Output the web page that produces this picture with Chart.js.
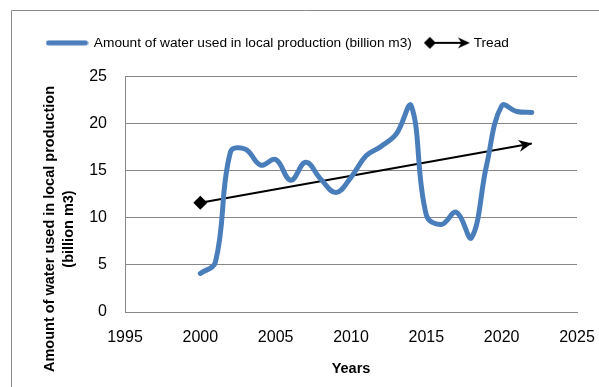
<!DOCTYPE html>
<html>
<head>
<meta charset="utf-8">
<title>Water used in local production</title>
<script src="https://cdn.jsdelivr.net/npm/chart.js@4.4.1/dist/chart.umd.min.js"></script>
<style>
  html, body { margin: 0; padding: 0; background: #fff; }
  #wrap { width: 599px; height: 387px; }
</style>
</head>
<body>
<div id="wrap"><canvas id="waterChart" width="599" height="387"></canvas></div>
<script>
// ---- data ----
const years = [2000, 2001, 2002, 2003, 2004, 2005, 2006, 2007, 2008, 2009, 2010, 2011,
               2012, 2013, 2014, 2015, 2016, 2017, 2018, 2019, 2020, 2021, 2022];
const waterUse = [4.1, 5.3, 17.0, 17.3, 15.6, 16.2, 14.0, 15.9, 14.1, 12.7, 14.3, 16.6,
                  17.6, 18.9, 21.9, 10.3, 9.3, 10.6, 7.9, 15.6, 21.9, 21.3, 21.2];
const trendYears = [2000, 2022];
const trendValues = [11.6, 17.9];
const xTickLabels = [1995, 2000, 2005, 2010, 2015, 2020, 2025];
const yTickLabels = [0, 5, 10, 15, 20, 25];

const seriesLabel = "Amount of water used in local production (billion m3)";
const trendLabel = "Tread";
const yTitleLines = ["Amount of water used in local production", "(billion m3)"];
const xTitle = "Years";

// ---- styles ----
const BLUE = "#4a7ebb";
const GRID = "#878787";
const FONT = "'Liberation Sans', Arial, sans-serif";

function drawArrowHead(ctx, tipX, tipY, angle, len, half) {
  ctx.save();
  ctx.translate(tipX, tipY);
  ctx.rotate(angle);
  ctx.beginPath();
  ctx.moveTo(0, 0);
  ctx.lineTo(-len, -half);
  ctx.lineTo(-len * 0.7, 0);
  ctx.lineTo(-len, half);
  ctx.closePath();
  ctx.fill();
  ctx.restore();
}

// legend sample glyphs
function makeLineSample() {
  const c = document.createElement("canvas");
  c.width = 43; c.height = 6;
  const g = c.getContext("2d");
  g.strokeStyle = BLUE;
  g.lineWidth = 5;
  g.lineCap = "round";
  g.beginPath();
  g.moveTo(3, 3); g.lineTo(40, 3);
  g.stroke();
  return c;
}

function makeTrendSample() {
  const c = document.createElement("canvas");
  c.width = 46; c.height = 14;
  const g = c.getContext("2d");
  g.fillStyle = "#000";
  g.strokeStyle = "#000";
  g.lineWidth = 2;
  g.beginPath();
  g.moveTo(6, 7); g.lineTo(40, 7);
  g.stroke();
  g.beginPath();
  g.moveTo(6, 1); g.lineTo(12, 7); g.lineTo(6, 13); g.lineTo(0, 7);
  g.closePath();
  g.fill();
  drawArrowHead(g, 46, 7, 0, 12, 5.5);
  return c;
}

const lineSample = makeLineSample();
const trendSample = makeTrendSample();

// frame, arrow head at trend end, rotated y title
const decorations = {
  id: "decorations",
  beforeDraw(chart) {
    const ctx = chart.ctx;
    ctx.save();
    ctx.strokeStyle = "#8a8a8a";
    ctx.lineWidth = 1;
    ctx.beginPath();
    ctx.moveTo(11.5, chart.height);
    ctx.lineTo(11.5, 10.5);
    ctx.lineTo(chart.width, 10.5);
    ctx.stroke();
    ctx.restore();
  },
  afterDatasetsDraw(chart) {
    const pts = chart.getDatasetMeta(1).data;
    const a = pts[pts.length - 2];
    const b = pts[pts.length - 1];
    const ctx = chart.ctx;
    ctx.save();
    ctx.fillStyle = "#000";
    drawArrowHead(ctx, b.x, b.y, Math.atan2(b.y - a.y, b.x - a.x), 13, 6);
    ctx.restore();
  },
  afterDraw(chart) {
    const ctx = chart.ctx;
    ctx.save();
    ctx.translate(59, 229);
    ctx.rotate(-Math.PI / 2);
    ctx.fillStyle = "#000";
    ctx.font = "bold 14.5px " + FONT;
    ctx.textAlign = "center";
    ctx.textBaseline = "middle";
    ctx.fillText(yTitleLines[0], 0, -9.5);
    ctx.fillText(yTitleLines[1], 0, 9.5);
    ctx.restore();
  }
};

const ctx = document.getElementById("waterChart").getContext("2d");
new Chart(ctx, {
  type: "line",
  data: {
    datasets: [
      {
        label: seriesLabel,
        data: years.map((y, i) => ({ x: y, y: waterUse[i] })),
        xAxisID: "x",
        yAxisID: "y",
        borderColor: BLUE,
        borderWidth: 5,
        borderCapStyle: "round",
        borderJoinStyle: "round",
        tension: 0.4,
        pointRadius: 0,
        fill: false
      },
      {
        label: trendLabel,
        data: trendYears.map((y, i) => ({ x: y, y: trendValues[i] })),
        xAxisID: "x",
        yAxisID: "y",
        borderColor: "#000",
        borderWidth: 2,
        pointStyle: "rectRot",
        pointRadius: [7, 0],
        pointBackgroundColor: "#000",
        pointBorderWidth: 0,
        tension: 0,
        fill: false
      }
    ]
  },
  options: {
    responsive: false,
    animation: false,
    devicePixelRatio: 1,
    layout: { padding: { top: 21, left: 32, right: 22, bottom: 0 } },
    plugins: {
      tooltip: { enabled: false },
      legend: {
        position: "top",
        align: "start",
        labels: {
          usePointStyle: true,
          pointStyleWidth: 40,
          padding: 15,
          color: "#000",
          font: { family: FONT, size: 13.7 },
          generateLabels: () => [
            { text: seriesLabel, pointStyle: lineSample, fillStyle: BLUE, strokeStyle: BLUE, lineWidth: 0, hidden: false, datasetIndex: 0 },
            { text: trendLabel, pointStyle: trendSample, fillStyle: "#000", strokeStyle: "#000", lineWidth: 0, hidden: false, datasetIndex: 1 }
          ]
        }
      }
    },
    scales: {
      x: {
        type: "linear",
        position: "bottom",
        min: xTickLabels[0],
        max: xTickLabels[xTickLabels.length - 1],
        afterBuildTicks: s => { s.ticks = xTickLabels.map(v => ({ value: v })); },
        afterFit: s => { s.height = 75; },
        grid: { display: false, drawTicks: true, tickLength: 16 },
        border: { display: true, color: GRID, width: 1 },
        ticks: {
          padding: 0,
          color: "#000",
          font: { family: FONT, size: 16 },
          maxRotation: 0,
          callback: v => String(v)
        },
        title: {
          display: true,
          text: xTitle,
          color: "#000",
          font: { family: FONT, size: 14.5, weight: "bold" },
          padding: { top: 0, bottom: 9 }
        }
      },
      xTop: {
        type: "linear",
        position: "top",
        display: true,
        afterFit: s => { s.height = 17; },
        grid: { display: false, drawTicks: false },
        border: { display: false },
        ticks: { display: false }
      },
      y: {
        type: "linear",
        min: yTickLabels[0],
        max: yTickLabels[yTickLabels.length - 1],
        afterBuildTicks: s => { s.ticks = yTickLabels.map(v => ({ value: v })); },
        afterFit: s => { s.width = 93; },
        grid: { color: GRID, lineWidth: 1, drawTicks: false },
        border: { display: true, color: GRID, width: 1 },
        ticks: {
          padding: 18,
          color: "#000",
          font: { family: FONT, size: 16 },
          callback: v => String(v)
        }
      }
    }
  },
  plugins: [decorations]
});
</script>
</body>
</html>
